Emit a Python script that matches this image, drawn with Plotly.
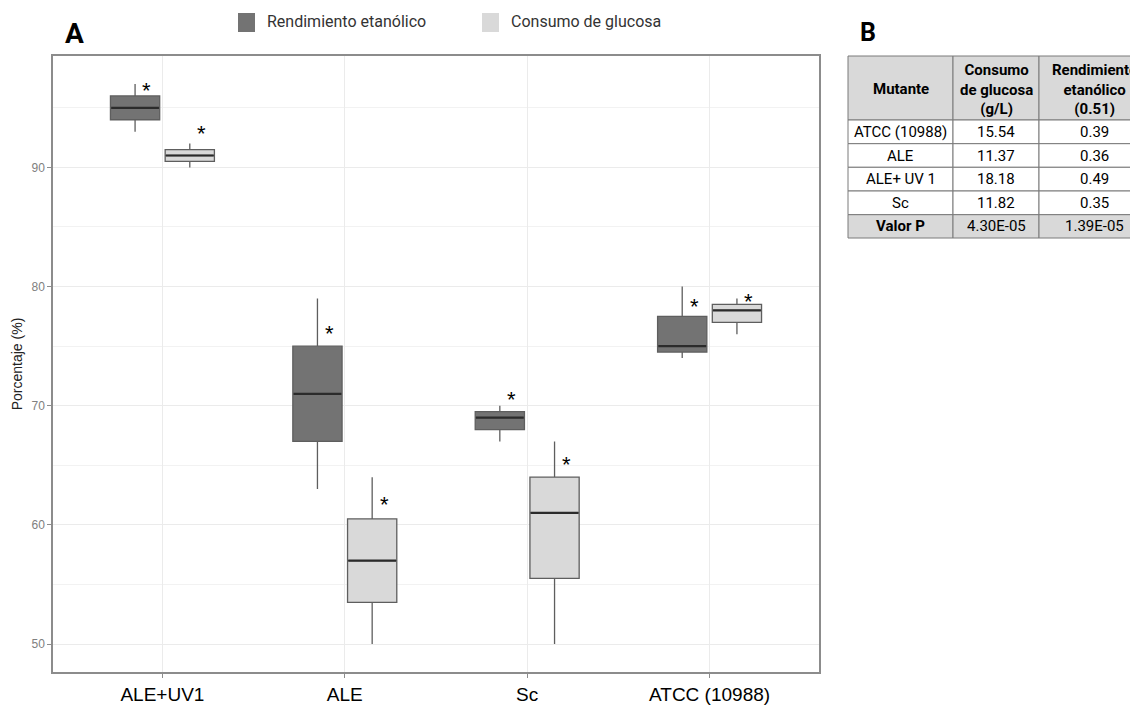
import plotly.graph_objects as go

# ---------------- data ----------------
categories = ["ALE+UV1", "ALE", "Sc", "ATCC (10988)"]

# Rendimiento etanólico (dark boxes)
rend_lower = [93, 63, 67, 74]
rend_q1 = [94, 67, 68, 74.5]
rend_median = [95, 71, 69, 75]
rend_q3 = [96, 75, 69.5, 77.5]
rend_upper = [97, 79, 70, 80]

# Consumo de glucosa (light boxes)
cons_lower = [90, 50, 50, 76]
cons_q1 = [90.5, 53.5, 55.5, 77]
cons_median = [91, 57, 61, 78]
cons_q3 = [91.5, 60.5, 64, 78.5]
cons_upper = [92, 64, 67, 79]

# significance asterisks (y values)
rend_star_y = [96.6, 76.2, 70.7, 78.5]
cons_star_y = [93.0, 61.9, 65.2, 78.9]

y_ticks = [50, 60, 70, 80, 90]

# table B
table_header = ["Mutante", "Consumo<br>de glucosa<br>(g/L)", "Rendimiento<br>etanólico<br>(0.51)"]
table_mutante = ["ATCC (10988)", "ALE", "ALE+ UV 1", "Sc", "Valor P"]
table_consumo = ["15.54", "11.37", "18.18", "11.82", "4.30E-05"]
table_rend = ["0.39", "0.36", "0.49", "0.35", "1.39E-05"]

# ---------------- layout geometry (window pixel coords) ----------------
OFF = 8                 # page body margin
FW, FH = 1130, 698
PANEL_L, PANEL_R, PANEL_T, PANEL_B = 53, 819, 56, 672
L = PANEL_L - OFF
T = PANEL_T - OFF
R = FW - (PANEL_R - OFF)
B = FH - (PANEL_B - OFF)
PW, PH = FW - L - R, FH - T - B


def px_x(xw):
    return (xw - OFF - L) / PW


def px_y(yw):
    return (FH - B - (yw - OFF)) / PH


DARK = "#737373"
LIGHT = "#d9d9d9"
EDGE = "#5e5e5e"
MED = "#2b2b2b"
dodge = 0.15
box_w = 0.27
idx = list(range(1, len(categories) + 1))

fig = go.Figure()
groups = [
    (-dodge, DARK, rend_lower, rend_q1, rend_median, rend_q3, rend_upper, "Rendimiento etanólico"),
    (dodge, LIGHT, cons_lower, cons_q1, cons_median, cons_q3, cons_upper, "Consumo de glucosa"),
]
for off, col, lo, q1, md, q3, up, nm in groups:
    fig.add_trace(go.Box(
        x=[i + off for i in idx], q1=q1, median=md, q3=q3,
        lowerfence=lo, upperfence=up,
        width=box_w, fillcolor=col, line=dict(color=EDGE, width=1.3),
        whiskerwidth=0, boxpoints=False, showlegend=False, name=nm,
    ))
    # darker median lines
    mx, my = [], []
    for i, m in zip(idx, md):
        mx += [i + off - box_w / 2 + 0.004, i + off + box_w / 2 - 0.004, None]
        my += [m, m, None]
    fig.add_trace(go.Scatter(x=mx, y=my, mode="lines", line=dict(color=MED, width=2.2),
                             hoverinfo="skip", showlegend=False))

# asterisks
annotations = []
star_font = dict(family="Liberation Sans", size=22, color="black")
for off, nudge, ys in [(-dodge, 0.065, rend_star_y), (dodge, 0.065, cons_star_y)]:
    for i, yv in zip(idx, ys):
        annotations.append(dict(x=i + off + nudge, y=yv, xref="x", yref="y", text="*",
                                showarrow=False, yanchor="middle", yshift=-2, font=star_font))

# panel letters
annotations.append(dict(x=px_x(74), y=px_y(34), xref="paper", yref="paper", text="<b>A</b>",
                        showarrow=False, xanchor="center", yanchor="middle",
                        font=dict(family="Roboto", size=28, color="black")))
annotations.append(dict(x=px_x(868), y=px_y(32), xref="paper", yref="paper", text="<b>B</b>",
                        showarrow=False, xanchor="center", yanchor="middle",
                        font=dict(family="Roboto", size=25, color="black")))

# manual legend
shapes = []
legend_items = [("Rendimiento etanólico", DARK, 238), ("Consumo de glucosa", LIGHT, 482)]
for label, col, x0 in legend_items:
    shapes.append(dict(type="rect", xref="paper", yref="paper",
                       x0=px_x(x0), x1=px_x(x0 + 17), y0=px_y(32), y1=px_y(13),
                       fillcolor=col, line=dict(width=0)))
    annotations.append(dict(x=px_x(x0 + 27), y=px_y(22), xref="paper", yref="paper",
                            text=label, showarrow=False, xanchor="left", yanchor="middle",
                            font=dict(family="Roboto", size=16, color="#333333")))

# table B (drawn as cells)
col_x = [848, 953, 1039, 1150]
row_y = [56, 120, 143.7, 167.3, 191, 214.7, 238]
columns = [table_mutante, table_consumo, table_rend]
n_rows = len(table_mutante)
for c in range(3):
    x0, x1 = col_x[c], col_x[c + 1]
    # header
    shapes.append(dict(type="rect", xref="paper", yref="paper",
                       x0=px_x(x0), x1=px_x(x1), y0=px_y(row_y[1]), y1=px_y(row_y[0]),
                       fillcolor=LIGHT, line=dict(color="#7a7a7a", width=1)))
    annotations.append(dict(x=px_x((x0 + x1) / 2), y=px_y((row_y[0] + row_y[1]) / 2 + 1),
                            xref="paper", yref="paper", text=f"<b>{table_header[c]}</b>",
                            showarrow=False, align="center", xanchor="center", yanchor="middle",
                            font=dict(family="Roboto", size=15, color="black")))
    for r in range(n_rows):
        y0, y1 = row_y[r + 1], row_y[r + 2]
        last = r == n_rows - 1
        shapes.append(dict(type="rect", xref="paper", yref="paper",
                           x0=px_x(x0), x1=px_x(x1), y0=px_y(y1), y1=px_y(y0),
                           fillcolor=LIGHT if last else "white",
                           line=dict(color="#7a7a7a", width=1)))
        txt = columns[c][r]
        if last and c == 0:
            txt = f"<b>{txt}</b>"
        annotations.append(dict(x=px_x((x0 + x1) / 2), y=px_y((y0 + y1) / 2),
                                xref="paper", yref="paper", text=txt,
                                showarrow=False, xanchor="center", yanchor="middle",
                                font=dict(family="Roboto", size=15, color="black")))

fig.update_layout(
    width=FW, height=FH,
    margin=dict(l=L, r=R, t=T, b=B, autoexpand=False),
    paper_bgcolor="white", plot_bgcolor="white",
    boxmode="overlay",
    showlegend=False,
    annotations=annotations,
    shapes=shapes,
    xaxis=dict(range=[0.4, 4.6],
               tickvals=idx, ticktext=categories,
               tickfont=dict(family="Liberation Sans", size=19, color="black"),
               ticklabelstandoff=0,
               showgrid=True, gridcolor="#ebebeb", gridwidth=1,
               zeroline=False, showline=True, linecolor="#8c8c8c", linewidth=1.5, mirror=True,
               ticks="outside", ticklen=4, tickcolor="#8c8c8c"),
    yaxis=dict(range=[47.65, 99.35], tickvals=y_ticks,
               tickfont=dict(family="Liberation Sans", size=12, color="#808080"),
               showgrid=True, gridcolor="#ebebeb", gridwidth=1,
               minor=dict(dtick=5, tick0=0, showgrid=True, gridcolor="#f2f2f2", gridwidth=1),
               zeroline=False, showline=True, linecolor="#8c8c8c", linewidth=1.5, mirror=True,
               ticks="outside", ticklen=4, tickcolor="#8c8c8c",
               title=dict(text="Porcentaje (%)", standoff=6,
                          font=dict(family="Liberation Sans", size=14, color="#222222"))),
)

fig.write_html("out.html")
